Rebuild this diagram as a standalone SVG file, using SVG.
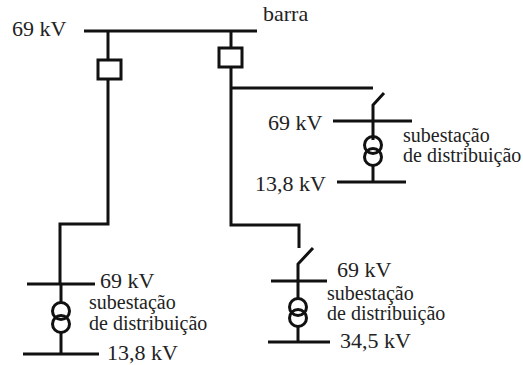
<svg xmlns="http://www.w3.org/2000/svg" width="523" height="365" viewBox="0 0 523 365">
<style>
.l{fill:none;stroke:#111;stroke-width:3}
text{fill:#222;font-family:"Liberation Serif","Times New Roman",serif}
.t{font-size:22px}
.s{font-size:20px}
</style>
<rect width="523" height="365" fill="#fff"/>
<g id="barra">
<line class="l" x1="84" y1="31" x2="257" y2="31"/>
<text class="t" x="12" y="36">69 kV</text>
<text class="t" x="263" y="21">barra</text>
</g>
<g id="disjuntor1"><rect class="l" x="98" y="60" width="23" height="19"/></g>
<g id="disjuntor2"><rect class="l" x="219" y="48" width="23" height="19"/></g>
<g id="sub1">
<polyline class="l" points="384,93 373,105 373,140"/>
<line class="l" x1="333" y1="121" x2="412" y2="121"/>
<circle class="l" cx="373" cy="145" r="8.5"/>
<circle class="l" cx="373" cy="157" r="8.5"/>
<line class="l" x1="373" y1="165" x2="373" y2="182"/>
<line class="l" x1="337" y1="182" x2="406" y2="182"/>
<text class="t" x="268" y="130">69 kV</text>
<text class="t" x="255" y="191">13,8 kV</text>
<text class="s" x="403" y="142">subestação</text>
<text class="s" x="403" y="162">de distribuição</text>
</g>
<g id="sub2">
<line class="l" x1="61" y1="284" x2="61" y2="303"/>
<line class="l" x1="27" y1="284" x2="95" y2="284"/>
<circle class="l" cx="61" cy="311" r="8.5"/>
<circle class="l" cx="61" cy="324" r="8.5"/>
<line class="l" x1="61" y1="332" x2="61" y2="354"/>
<line class="l" x1="23" y1="354" x2="99" y2="354"/>
<text class="t" x="100" y="288">69 kV</text>
<text class="t" x="107" y="360">13,8 kV</text>
<text class="s" x="89" y="309">subestação</text>
<text class="s" x="89" y="330">de distribuição</text>
</g>
<g id="sub3">
<polyline class="l" points="313,248 298,264 298,299"/>
<line class="l" x1="271" y1="281" x2="327" y2="281"/>
<circle class="l" cx="298" cy="307" r="8.5"/>
<circle class="l" cx="298" cy="318" r="8.5"/>
<line class="l" x1="298" y1="326" x2="298" y2="342"/>
<line class="l" x1="268" y1="342" x2="330" y2="342"/>
<text class="t" x="337" y="277">69 kV</text>
<text class="t" x="340" y="348">34,5 kV</text>
<text class="s" x="327" y="300">subestação</text>
<text class="s" x="327" y="320">de distribuição</text>
</g>
<g id="connectors">
<polyline class="l" points="108,31 108,60"/>
<polyline class="l" points="108,79 108,224 60,224 60,284"/>
<polyline class="l" points="231,31 231,48"/>
<polyline class="l" points="231,67 231,225 299,225 299,248"/>
<polyline class="l" points="231,88 373,88"/>
</g>
</svg>
